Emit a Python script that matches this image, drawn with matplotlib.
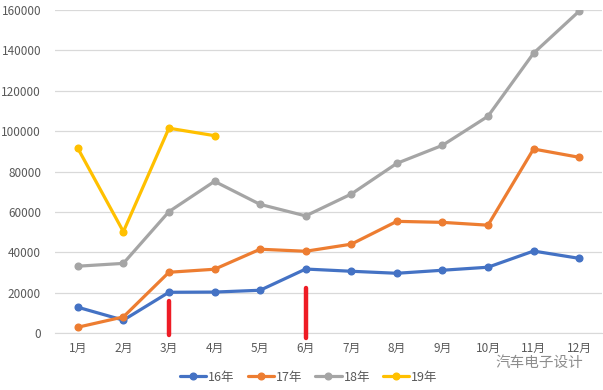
import matplotlib.pyplot as plt
import numpy as np

plt.rcParams['font.family'] = ['Noto Sans CJK SC', 'DejaVu Sans']

months = ["1月", "2月", "3月", "4月", "5月", "6月", "7月", "8月", "9月", "10月", "11月", "12月"]

y16 = [12900, 6500, 20300, 20400, 21300, 31800, 30700, 29700, 31200, 32700, 40700, 37100]
y17 = [3000, 8100, 30200, 31700, 41600, 40600, 44100, 55400, 54900, 53500, 91200, 87100]
y18 = [33200, 34600, 60200, 75200, 63800, 58100, 68900, 84100, 93000, 107400, 138600, 159400]
y19 = [91600, 50300, 101500, 97800]

names = ["16年", "17年", "18年", "19年"]
colors = ["#4472C4", "#ED7D31", "#A5A5A5", "#FFC000"]

# red marks drawn on the chart (month index, low, high)
mark_idx = [2, 5]
mark_lo = [-800, -2500]
mark_hi = [16100, 22500]

fig = plt.figure(figsize=(6.03, 3.90), dpi=100)
ax = fig.add_axes([0.0912, 0.1454, 0.907, 0.829])

x = np.arange(len(months))
for ys, name, c in zip([y16, y17, y18, y19], names, colors):
    ax.plot(x[:len(ys)], ys, color=c, lw=2.3, marker="o", ms=4.8, label=name,
            solid_capstyle="round", solid_joinstyle="round", zorder=3)

for i, lo, hi in zip(mark_idx, mark_lo, mark_hi):
    ax.plot([i, i], [lo, hi], color="#EE1C25", lw=3.2, solid_capstyle="round", zorder=4,
            clip_on=False)

ax.set_xlim(-0.5, 11.5)
ax.set_ylim(0, 160000)
ax.set_yticks(np.arange(0, 160001, 20000))
ax.set_xticks(x)
ax.set_xticklabels(months)
ax.grid(axis="y", color="#D9D9D9", lw=0.9)
ax.set_axisbelow(True)
for s in ["top", "right", "left"]:
    ax.spines[s].set_visible(False)
ax.spines["bottom"].set_color("#D9D9D9")
ax.tick_params(axis="both", length=0, labelsize=8.5, colors="#595959")
ax.tick_params(axis="y", pad=10)
ax.tick_params(axis="x", pad=6)

leg = fig.legend(loc="center", bbox_to_anchor=(0.512, 0.033), ncol=4, frameon=False,
                 fontsize=9, handlelength=2.1, columnspacing=1.05, handletextpad=0.15)
for t in leg.get_texts():
    t.set_color("#595959")

fig.text(0.821, 0.069, "汽车电子设计", fontsize=10.5, color="#8C8C8C", ha="left", va="center")

fig.savefig("out.png", dpi=100)
